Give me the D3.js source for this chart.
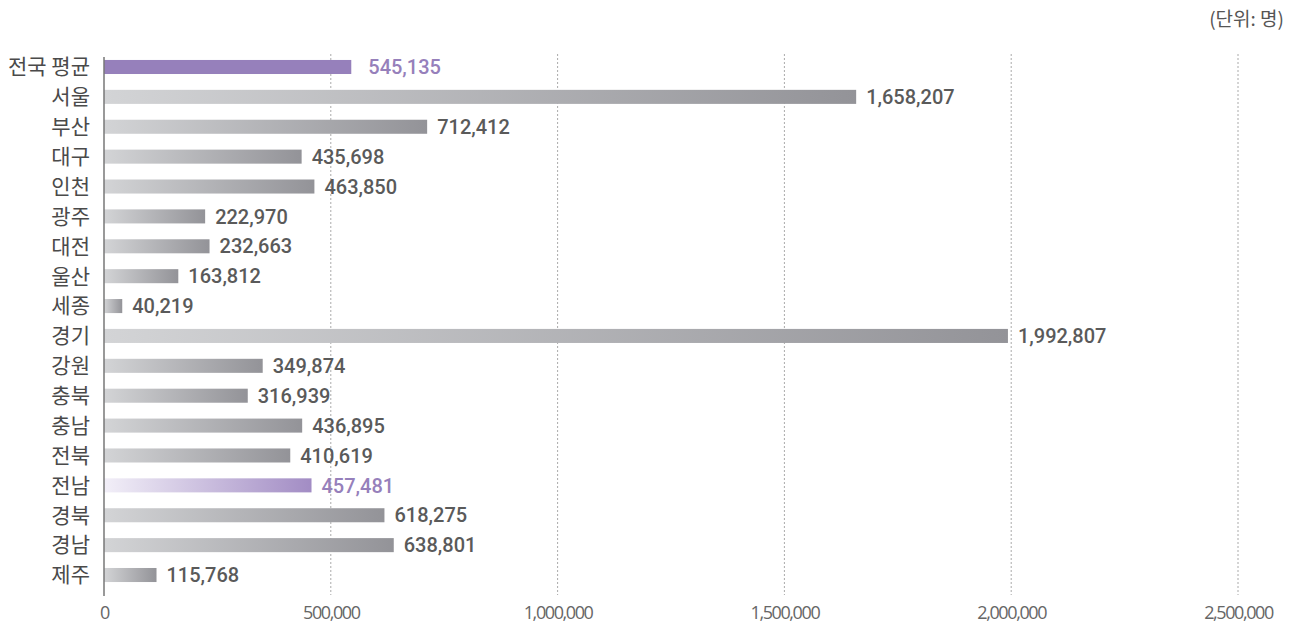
<!DOCTYPE html>
<html>
<head>
<meta charset="utf-8">
<script src="https://cdn.jsdelivr.net/npm/d3@7"></script>
<style>
  body { margin: 0; background: #fff; }
  .cat { font-family: "Noto Sans CJK KR", "Noto Sans", sans-serif; font-size: 21px; fill: #4a4a4a; }
  .val { font-family: Roboto, "Liberation Sans Narrow", sans-serif; font-size: 20px; font-weight: 500; fill: #5a5a5a; }
  .tick text { font-family: "Open Sans", sans-serif; font-size: 18px; fill: #666; letter-spacing: -1.4px; }
</style>
</head>
<body>
<div id="chart"></div>
<script>
var regions = ["전국 평균", "서울", "부산", "대구", "인천", "광주", "대전", "울산", "세종", "경기",
               "강원", "충북", "충남", "전북", "전남", "경북", "경남", "제주"];
var values = [545135, 1658207, 712412, 435698, 463850, 222970, 232663, 163812, 40219, 1992807,
              349874, 316939, 436895, 410619, 457481, 618275, 638801, 115768];
var ticks = [0, 500000, 1000000, 1500000, 2000000, 2500000];

var width = 1297, height = 626;
var svg = d3.select("#chart").append("svg")
    .attr("width", width)
    .attr("height", height);

var x = d3.scaleLinear().domain([0, 2500000]).range([104, 1238]);
var y = d3.scaleBand().domain(regions).range([51, 591]).paddingInner(0.53).paddingOuter(0.3);

var defs = svg.append("defs");
var gGray = defs.append("linearGradient").attr("id", "gGray").attr("x1", "0%").attr("x2", "100%");
gGray.append("stop").attr("offset", "0%").attr("stop-color", "#d3d4d6");
gGray.append("stop").attr("offset", "100%").attr("stop-color", "#939398");
var gPurple = defs.append("linearGradient").attr("id", "gPurple").attr("x1", "0%").attr("x2", "100%");
gPurple.append("stop").attr("offset", "0%").attr("stop-color", "#f2eff8");
gPurple.append("stop").attr("offset", "100%").attr("stop-color", "#a28cc4");

// grid
svg.selectAll(".grid")
    .data(ticks.slice(1))
    .enter()
    .append("line")
    .attr("x1", d => x(d)).attr("x2", d => x(d))
    .attr("y1", 54).attr("y2", 595)
    .attr("stroke", "#aaa")
    .attr("stroke-width", 1)
    .attr("stroke-dasharray", "2,2");

// x axis
var xAxis = svg.append("g")
    .attr("transform", "translate(0,600)")
    .call(d3.axisBottom(x).tickValues(ticks).tickFormat(d3.format(",")).tickSize(0).tickPadding(6));
xAxis.select(".domain").remove();

// bars
svg.selectAll(".bar")
    .data(values)
    .enter()
    .append("rect")
    .attr("x", x(0))
    .attr("y", (d, i) => y(regions[i]))
    .attr("width", d => x(d) - x(0))
    .attr("height", y.bandwidth())
    .attr("fill", (d, i) => i == 0 ? "#9680bb" : (regions[i] == "전남" ? "url(#gPurple)" : "url(#gGray)"));

// y axis line
svg.append("line")
    .attr("x1", x(0)).attr("x2", x(0))
    .attr("y1", 57).attr("y2", 596)
    .attr("stroke", "#777")
    .attr("stroke-width", 1.5);

// category labels
svg.selectAll(".cat")
    .data(regions)
    .enter()
    .append("text")
    .attr("class", "cat")
    .attr("x", 90)
    .attr("y", d => y(d) + y.bandwidth() / 2)
    .attr("dy", "0.35em")
    .attr("text-anchor", "end")
    .text(d => d);

// value labels
svg.selectAll(".val")
    .data(values)
    .enter()
    .append("text")
    .attr("class", "val")
    .attr("x", (d, i) => x(d) + (i == 0 ? 17 : 10))
    .attr("y", (d, i) => y(regions[i]) + y.bandwidth() / 2)
    .attr("dy", "0.36em")
    .style("fill", (d, i) => (i == 0 || regions[i] == "전남") ? "#9680bb" : "#5a5a5a")
    .text(d => d3.format(",")(d));

svg.append("text")
    .attr("x", 1284)
    .attr("y", 26)
    .attr("text-anchor", "end")
    .style("font-family", "'Noto Sans CJK KR', sans-serif")
    .style("font-size", "19px")
    .style("fill", "#555")
    .text("(단위: 명)");
</script>
</body>
</html>
